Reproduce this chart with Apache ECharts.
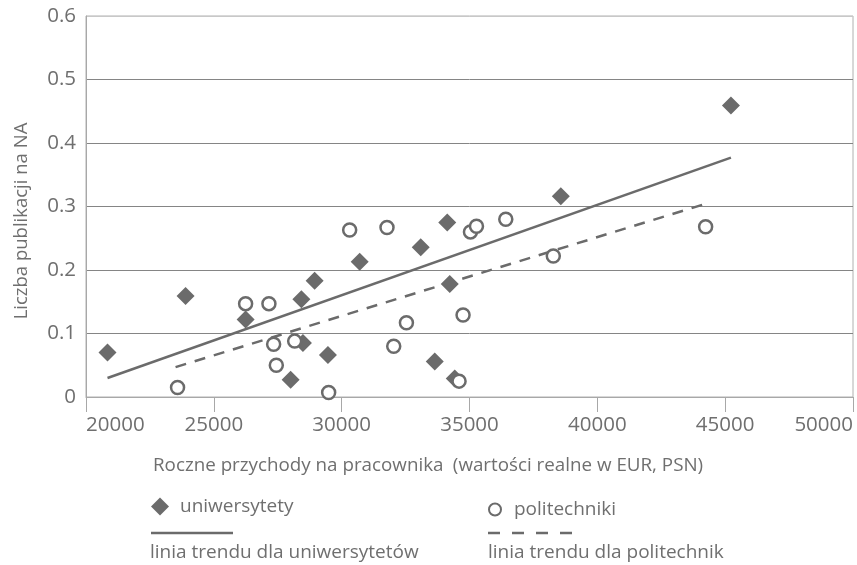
<!DOCTYPE html>
<html>
<head>
<meta charset="utf-8">
<script src="https://cdn.jsdelivr.net/npm/echarts@6/dist/echarts.min.js"></script>
<style>html,body{margin:0;padding:0;background:#fff}#c{width:857px;height:565px}</style>
</head>
<body>
<div id="c"></div>
<script>
// Data
const uniX = [20841, 23894, 26243, 28423, 28943, 28486, 29464, 28004, 30705, 33092, 34130, 34228, 33640, 34423, 38572, 45226];
const uniY = [0.070, 0.159, 0.122, 0.154, 0.183, 0.085, 0.066, 0.027, 0.213, 0.236, 0.275, 0.178, 0.056, 0.029, 0.316, 0.459];
const polX = [23581, 26243, 27155, 27339, 27444, 28161, 29491, 30313, 31773, 32036, 32533, 34748, 34592, 35038, 35273, 36419, 38278, 44236];
const polY = [0.015, 0.147, 0.147, 0.083, 0.050, 0.088, 0.007, 0.263, 0.267, 0.080, 0.117, 0.129, 0.025, 0.260, 0.269, 0.280, 0.222, 0.268];
const trendUniX = [20841, 45226];
const trendUniY = [0.030, 0.377];
const trendPolX = [23503, 44209];
const trendPolY = [0.047, 0.304];
const xTicks = [20000, 25000, 30000, 35000, 40000, 45000, 50000];
const yTicks = [0, 0.1, 0.2, 0.3, 0.4, 0.5, 0.6];
const names = ['uniwersytety', 'politechniki', 'linia trendu dla uniwersytetów', 'linia trendu dla politechnik'];
const xTitle = 'Roczne przychody na pracownika\u2002(wartości realne w EUR, PSN)';
const yTitle = 'Liczba publikacji na NA';

const zip = (a, b) => a.map((v, i) => [v, b[i]]);
const C = '#6b6b6b';
const T = '#6f6f6f';
const FF = 'Open Sans';

const chart = echarts.init(document.getElementById('c'), null, {renderer: 'canvas'});
chart.setOption({
  animation: false,
  textStyle: {fontFamily: FF},
  grid: {left: 86, right: 4, top: 16, bottom: 168, show: true, borderColor: '#b0b0b0', borderWidth: 1},
  xAxis: {
    type: 'value', min: xTicks[0], max: xTicks[xTicks.length - 1], interval: 5000,
    axisLine: {show: true, lineStyle: {color: '#a8a8a8', width: 1}},
    axisTick: {show: true, length: 15, lineStyle: {color: '#a8a8a8'}},
    splitLine: {show: false},
    axisLabel: {fontSize: 20.5, color: T, margin: 18, alignMinLabel: 'left', alignMaxLabel: 'right', fontFamily: FF, formatter: v => String(v)}
  },
  yAxis: {
    type: 'value', min: yTicks[0], max: yTicks[yTicks.length - 1], interval: 0.1,
    axisLine: {show: true, lineStyle: {color: '#a8a8a8', width: 1}},
    axisTick: {show: false},
    splitLine: {show: true, lineStyle: {color: ['#a8a8a8', '#858585', '#858585', '#858585', '#858585', '#858585', '#c8c8c8'], width: 1}},
    axisLabel: {fontSize: 20.5, color: T, margin: 10, fontFamily: FF, formatter: v => String(Math.round(v * 10) / 10)}
  },
  legend: [
    {data: [names[0]], left: 146, top: 492, itemWidth: 18, itemHeight: 18, textStyle: {fontSize: 19, color: T, fontFamily: FF, padding: [0, 0, 0, 6]}},
    {data: [names[1]], left: 483, top: 495, itemWidth: 12, itemHeight: 12, textStyle: {fontSize: 19, color: T, fontFamily: FF, padding: [0, 0, 0, 8]}}
  ],
  graphic: [
    {type: 'text', left: 153, top: 456, style: {text: xTitle, fontSize: 18.8, fill: T, fontFamily: FF}},
    {type: 'text', x: 22, y: 221, rotation: Math.PI / 2, style: {text: yTitle, fontSize: 18.5, fill: T, fontFamily: FF, align: 'center', verticalAlign: 'middle'}},
    {type: 'line', shape: {x1: 151, y1: 533, x2: 233, y2: 533}, style: {stroke: C, lineWidth: 2.5}},
    {type: 'line', shape: {x1: 488, y1: 533, x2: 573, y2: 533}, style: {stroke: C, lineWidth: 2.5, lineDash: [12, 12]}},
    {type: 'text', left: 150, top: 543, style: {text: names[2], fontSize: 19, fill: T, fontFamily: FF}},
    {type: 'text', left: 488, top: 543, style: {text: names[3], fontSize: 19, fill: T, fontFamily: FF}}
  ],
  series: [
    {name: names[2], type: 'line', data: zip(trendUniX, trendUniY), symbol: 'none', lineStyle: {color: C, width: 2.5}, z: 1},
    {name: names[3], type: 'line', data: zip(trendPolX, trendPolY), symbol: 'none', lineStyle: {color: C, width: 2.5, type: [11, 9]}, z: 1},
    {name: names[0], type: 'scatter', data: zip(uniX, uniY), symbol: 'diamond', symbolSize: 18, itemStyle: {color: C, opacity: 1}, z: 3},
    {name: names[1], type: 'scatter', data: zip(polX, polY), symbol: 'circle', symbolSize: 13, itemStyle: {color: '#fff', borderColor: C, borderWidth: 2.5, opacity: 1}, z: 4}
  ]
});
</script>
</body>
</html>
